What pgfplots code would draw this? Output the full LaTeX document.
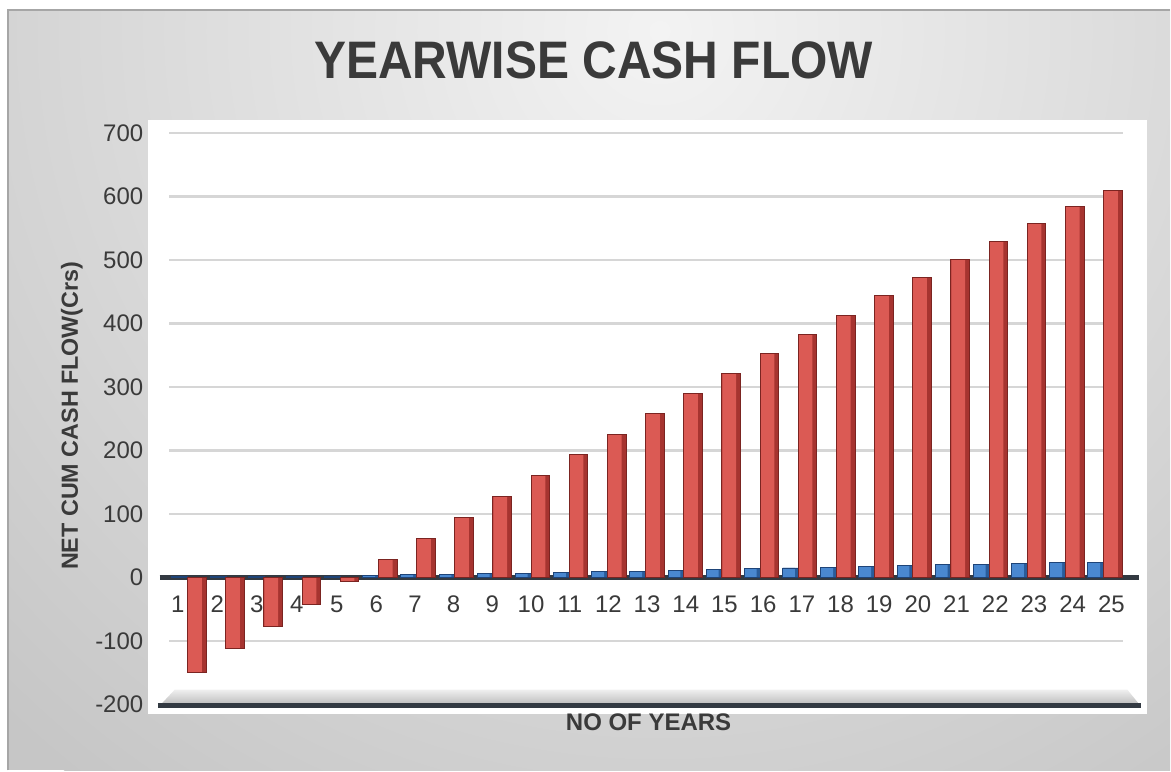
\documentclass[border=0pt]{standalone}
\usepackage{pgfplots}
\usepackage{pgfplotstable}
\pgfplotsset{compat=1.18}
\usepackage{fontspec}
\setmainfont{Liberation Sans}
\usepackage{graphicx}

\definecolor{redface}{HTML}{DB5A54}
\definecolor{redside}{HTML}{A63430}
\definecolor{redline}{HTML}{7B2421}
\definecolor{blueface}{HTML}{4A88D0}
\definecolor{blueside}{HTML}{2A5C9A}
\definecolor{blueline}{HTML}{1E4478}
\definecolor{textgray}{HTML}{3A3A3A}
\definecolor{gridgray}{HTML}{D6D6D6}
\definecolor{zeroline}{HTML}{333A42}
\definecolor{bgouter}{HTML}{C6C6C6}
\definecolor{bginner}{HTML}{F3F3F3}

% yearly and cumulative net cash flow (Crs)
\pgfplotstableread{
year yearly cum
1  1  -150
2  1  -112
3  1  -77
4  2  -42
5  2  -7
6  3  28
7  4  62
8  5  95
9  6  128
10 7  161
11 8  194
12 9  225
13 10 258
14 11 289
15 13 321
16 14 353
17 15 382
18 16 413
19 18 444
20 19 473
21 20 501
22 21 529
23 22 557
24 23 584
25 24 610
}\cashdata

\begin{document}
\begin{tikzpicture}[x=0.75pt,y=0.75pt]
% page and chart background
\fill[white] (0,0) rectangle (1171,771);
\begin{scope}
  \clip (8,0) rectangle (1171,761);
  \fill[bgouter] (8,0) rectangle (1171,761);
  \shade[inner color=bginner, outer color=bgouter] (660,740) circle (950);
\end{scope}
\draw[gray!70, line width=1.2] (8,0) -- (8,761) -- (1171,761);
% plot area
\fill[white] (148,57) rectangle (1148,651);

\begin{axis}[
  at={(127.05pt,49.5pt)}, anchor=south west,
  scale only axis, width=716.1pt, height=429pt,
  xmin=0.5, xmax=25.5, ymin=-200, ymax=700,
  ytick={-200,-100,...,700},
  % year labels sit slightly left of the bar pairs (perspective of the floor)
  xtick={0.72,1.76,2.79,3.84,4.89,5.924,6.938,7.951,8.965,9.979,
         10.992,12.006,13.019,14.033,15.047,16.060,17.074,18.087,19.101,
         20.115,21.128,22.142,23.155,24.169,25.183},
  xticklabels={1,2,3,4,5,6,7,8,9,10,11,12,13,14,15,16,17,18,19,20,21,22,23,24,25},
  axis line style={draw=none},
  major tick length=0pt,
  ymajorgrids,
  grid style={gridgray, line width=1.8pt},
  tick label style={font=\fontsize{18}{21}\selectfont, text=textgray},
  /pgf/number format/assume math mode=true,
  yticklabel style={xshift=-16pt},
  xticklabel style={anchor=center, yshift=75pt},
  clip=false,
]
% zero baseline
\draw[line width=3.2pt, zeroline] (axis cs:0.25,0) -- (axis cs:25.9,0);

% yearly flow (blue)
\addplot[ybar, bar width=12pt, bar shift=-6.4pt, fill=blueside, draw=none]
  table[x=year, y=yearly] {\cashdata};
\addplot[ybar, bar width=9pt, bar shift=-7.6pt, fill=blueface, draw=none]
  table[x=year, y=yearly] {\cashdata};
\addplot[ybar, bar width=12pt, bar shift=-6.4pt, fill=none, draw=blueline, line width=0.7pt]
  table[x=year, y=yearly] {\cashdata};

% cumulative flow (red)
\addplot[ybar, bar width=14pt, bar shift=6.4pt, fill=redside, draw=none]
  table[x=year, y=cum] {\cashdata};
\addplot[ybar, bar width=10.4pt, bar shift=4.9pt, fill=redface, draw=none]
  table[x=year, y=cum] {\cashdata};
\addplot[ybar, bar width=14pt, bar shift=6.4pt, fill=none, draw=redline, line width=0.7pt]
  table[x=year, y=cum] {\cashdata};
\end{axis}

% floor
\shade[top color=gray!12, bottom color=gray!55] (160,65) -- (1141,65) -- (1128,81) -- (175,81) -- cycle;
\draw[line width=3.5, zeroline] (158,65) -- (1142,65);

% titles
\node[font=\bfseries\fontsize{36}{40}\selectfont, text=textgray] at (594,711)
  {\scalebox{1}[1.1]{YEARWISE CASH FLOW}};
\node[rotate=90, font=\bfseries\fontsize{17.5}{20}\selectfont, text=textgray] at (72,355)
  {NET CUM CASH FLOW(Crs)};
\node[font=\bfseries\fontsize{18}{20}\selectfont, text=textgray] at (649,48)
  {NO OF YEARS};
\end{tikzpicture}
\end{document}
